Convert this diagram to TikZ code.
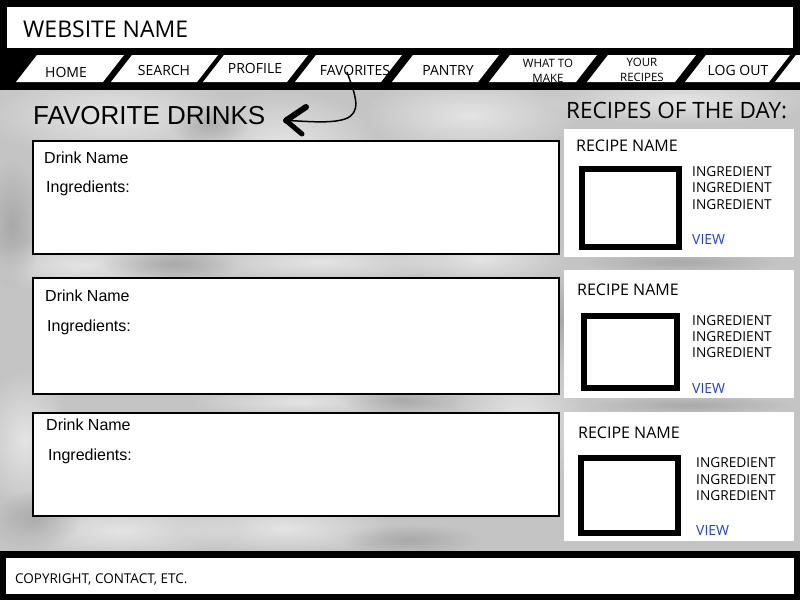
\documentclass[tikz,border=0pt]{standalone}
\usepackage{fontspec}
\setmainfont{Liberation Sans}
\newfontfamily\seg{Open Sans}
\usetikzlibrary{fadings}
\tikzfading[name=softblob, inner color=transparent!0, outer color=transparent!100]
\definecolor{bggray}{HTML}{C4C4C4}
\definecolor{darkblob}{HTML}{8E8E8E}
\definecolor{linkblue}{HTML}{1F3BFF}
\begin{document}
\begin{tikzpicture}[x=1pt,y=-1pt,
  lbl/.style={inner sep=0pt, anchor=base west, font=\seg\fontsize{#1}{#1}\selectfont},
  lbl/.default=14,
  tablbl/.style={inner sep=0pt, anchor=base, align=center, font=\seg\fontsize{#1}{15.5}\selectfont},
  tablbl/.default=14,
  arial/.style={inner sep=0pt, anchor=base west, font=\fontsize{#1}{#1}\selectfont},
  arial/.default=16,
  dbox/.style={draw=black, line width=2pt, fill=white, anchor=north west, minimum width=526pt, inner sep=0pt},
  card/.style={fill=white, anchor=north west, minimum width=230pt, inner sep=0pt},
  pic/.style={draw=black, line width=6pt, fill=white, anchor=north west, inner sep=0pt},
  light/.style={white, opacity=0.55, path fading=softblob},
  dark/.style={darkblob, opacity=0.5, path fading=softblob},
  tabshape/.style={fill=white}
]
\useasboundingbox (0,0) rectangle (800,600);
% background
\fill[bggray] (0,90) rectangle (800,552);
\begin{scope}
\clip (0,90) rectangle (800,552);
\fill[light] (110,115) ellipse (130 and 45);
\fill[light] (285,145) ellipse (95 and 55);
\fill[light] (470,115) ellipse (110 and 40);
\fill[light] (80,265) ellipse (100 and 28);
\fill[light] (320,262) ellipse (130 and 22);
\fill[light] (480,258) ellipse (90 and 28);
\fill[light] (120,530) ellipse (120 and 32);
\fill[light] (285,528) ellipse (110 and 28);
\fill[light] (520,420) ellipse (70 and 70);
\fill[light] (25,440) ellipse (45 and 70);
\fill[light] (300,402) ellipse (110 and 16);
\fill[light] (680,100) ellipse (140 and 25);
\fill[dark] (12,225) ellipse (30 and 65);
\fill[dark] (170,264) ellipse (70 and 16);
\fill[dark] (410,540) ellipse (70 and 16);
\fill[dark] (560,320) ellipse (16 and 45);
\fill[dark] (35,520) ellipse (45 and 30);
\fill[dark] (680,262) ellipse (100 and 12);
\fill[dark] (690,405) ellipse (100 and 10);
\fill[dark] (400,400) ellipse (60 and 14);
\fill[dark] (210,125) ellipse (40 and 20);
\end{scope}
% header
\fill[black] (0,0) rectangle (800,90);
\fill[white] (7,7) rectangle (793,48);
\begin{scope}
\clip (0,0) rectangle (800,90);
\foreach \a/\b in {37/124,132/218,224/308,316/402,413/499,510/597,608/696,706/790,796/880}
  \fill[tabshape] (\a,55) -- (\b,55) -- (\b-21,82) -- (\a-21,82) -- cycle;
\end{scope}
\node (site) [lbl=23] at (23,37) {WEBSITE NAME};
\node (thome) [tablbl] at (66,77) {HOME};
\node (tsearch) [tablbl] at (164,75) {SEARCH};
\node (tprofile) [tablbl] at (255,73.5) {PROFILE};
\node (tfav) [tablbl] at (355,75) {FAVORITES};
\node (tpantry) [tablbl] at (448,75) {PANTRY};
\node (twhat) [tablbl=11.5] at (548,82.5) {WHAT TO\\MAKE};
\node (tyour) [tablbl=11.5] at (642,81.5) {YOUR\\RECIPES};
\node (tlogout) [tablbl] at (738,75) {LOG OUT};
% titles
\node (title) [arial=26] at (33,124) {FAVORITE DRINKS};
\node (rod) [lbl=22.5] at (566,118) {RECIPES OF THE DAY:};
% arrow
\coordinate (tip) at (286,120.5);
\draw[line width=1.5pt, line cap=round] ([xshift=-8pt,yshift=3pt]tfav.south) .. controls (356,96) and (362,113) .. (345,119) .. controls (330,124) and (305,121) .. (tip);
\draw[line width=6pt, line cap=round] (tip) -- (306,107);
\draw[line width=5pt, line cap=round] (tip) -- (302,134);
% drink boxes
\node (d1) [dbox, minimum height=113pt] at (32,140) {};
\node (d2) [dbox, minimum height=116pt] at (32,277) {};
\node (d3) [dbox, minimum height=103pt] at (32,412) {};
\node (d1n) [arial] at (44,163) {Drink Name};
\node (d1i) [arial] at (46,192) {Ingredients:};
\node (d2n) [arial] at (45,301) {Drink Name};
\node (d2i) [arial] at (47,331) {Ingredients:};
\node (d3n) [arial] at (46,430) {Drink Name};
\node (d3i) [arial] at (48,460) {Ingredients:};
% recipe cards
\node (c1) [card, minimum height=128pt] at (564,129) {};
\node (c2) [card, minimum height=128pt] at (564,270) {};
\node (c3) [card, minimum height=129pt] at (564,412) {};
\node (p1) [pic, minimum width=97pt, minimum height=78pt] at (579,166) {};
\node (p2) [pic, minimum width=93pt, minimum height=72pt] at (581,313) {};
\node (p3) [pic, minimum width=97pt, minimum height=75pt] at (578,455) {};
\node (c1n) [lbl=16] at (576,151) {RECIPE NAME};
\node (c2n) [lbl=16] at (577,295) {RECIPE NAME};
\node (c3n) [lbl=16] at (578,438) {RECIPE NAME};
\node (c1i1) [lbl=13.7] at (692,176) {INGREDIENT};
\node (c1i2) [lbl=13.7] at (692,192.5) {INGREDIENT};
\node (c1i3) [lbl=13.7] at (692,209) {INGREDIENT};
\node (c1v) [lbl=14, text=linkblue] at (692,244) {VIEW};
\node (c2i1) [lbl=13.7] at (692,325) {INGREDIENT};
\node (c2i2) [lbl=13.7] at (692,341) {INGREDIENT};
\node (c2i3) [lbl=13.7] at (692,357) {INGREDIENT};
\node (c2v) [lbl=14, text=linkblue] at (692,393) {VIEW};
\node (c3i1) [lbl=13.7] at (696,467) {INGREDIENT};
\node (c3i2) [lbl=13.7] at (696,484) {INGREDIENT};
\node (c3i3) [lbl=13.7] at (696,500) {INGREDIENT};
\node (c3v) [lbl=14, text=linkblue] at (696,535) {VIEW};
% footer
\fill[black] (0,551) rectangle (800,600);
\fill[white] (6,558) rectangle (794,594);
\node (foot) [lbl=13.5] at (15,583) {COPYRIGHT, CONTACT, ETC.};
\end{tikzpicture}
\end{document}
